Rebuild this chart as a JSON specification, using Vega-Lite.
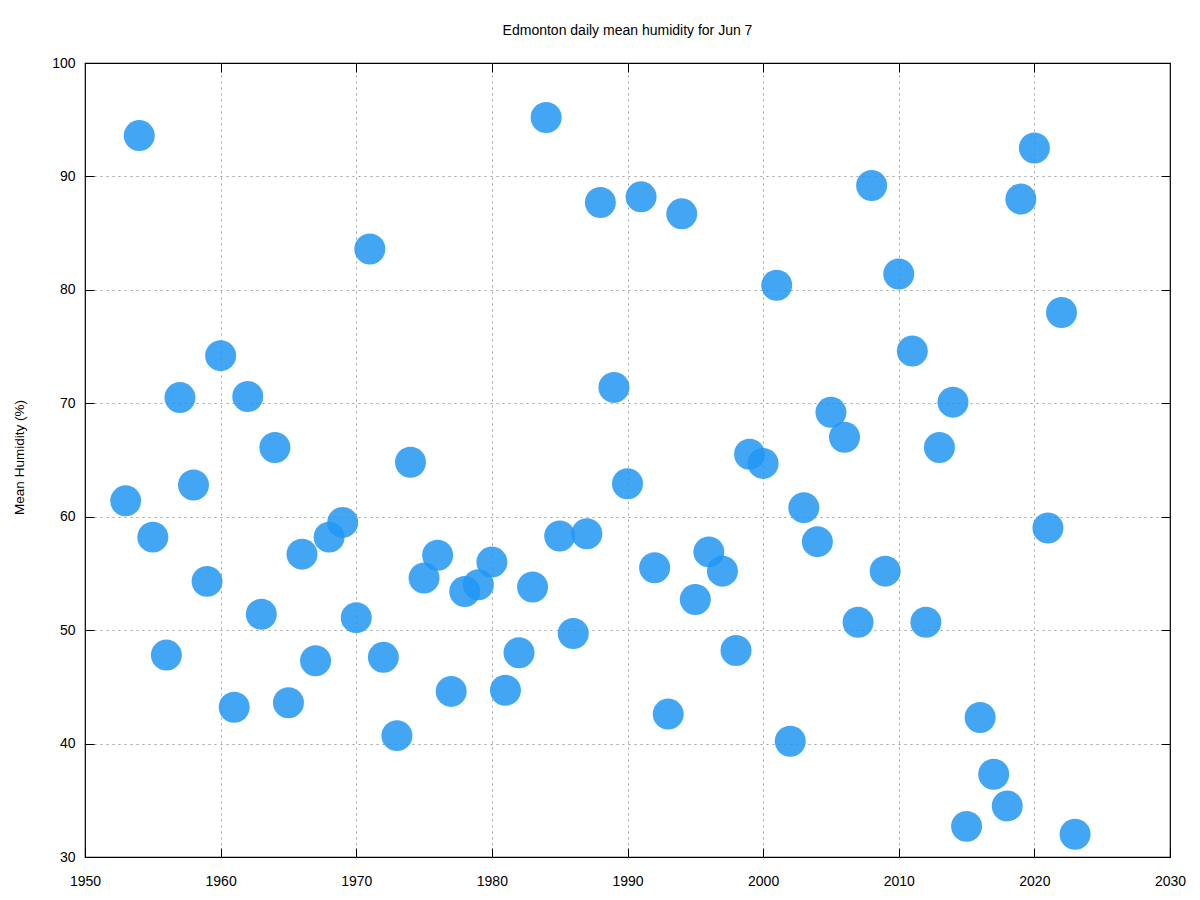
{
  "$schema": "https://vega.github.io/schema/vega-lite/v6.json",
  "autosize": "none",
  "width": 1085,
  "height": 794,
  "padding": {"left": 85, "top": 63, "right": 30, "bottom": 43},
  "background": "white",
  "title": {
    "text": "Edmonton daily mean humidity for Jun 7",
    "font": "Liberation Sans",
    "fontSize": 14,
    "fontWeight": "normal",
    "color": "black",
    "anchor": "middle",
    "frame": "group",
    "baseline": "alphabetic",
    "offset": 7
  },
  "config": {
    "view": {"stroke": "black", "strokeWidth": 1.2},
    "axis": {
      "labelFont": "Liberation Sans",
      "labelFontSize": 14,
      "labelColor": "black",
      "labelFlush": false,
      "titleFont": "Liberation Sans",
      "titleFontSize": 13.5,
      "titleFontWeight": "normal",
      "titleColor": "black",
      "tickColor": "black",
      "tickWidth": 1,
      "domain": false,
      "gridColor": "#a0a0a0",
      "gridDash": [2, 4],
      "gridWidth": 1
    }
  },
  "data": {
    "values": [
      {"year": 1953, "humidity": 61.4},
      {"year": 1954, "humidity": 93.6},
      {"year": 1955, "humidity": 58.2},
      {"year": 1956, "humidity": 47.8},
      {"year": 1957, "humidity": 70.5},
      {"year": 1958, "humidity": 62.8},
      {"year": 1959, "humidity": 54.3},
      {"year": 1960, "humidity": 74.2},
      {"year": 1961, "humidity": 43.2},
      {"year": 1962, "humidity": 70.6},
      {"year": 1963, "humidity": 51.4},
      {"year": 1964, "humidity": 66.1},
      {"year": 1965, "humidity": 43.6},
      {"year": 1966, "humidity": 56.7},
      {"year": 1967, "humidity": 47.3},
      {"year": 1968, "humidity": 58.2},
      {"year": 1969, "humidity": 59.5},
      {"year": 1970, "humidity": 51.1},
      {"year": 1971, "humidity": 83.6},
      {"year": 1972, "humidity": 47.6},
      {"year": 1973, "humidity": 40.7},
      {"year": 1974, "humidity": 64.8},
      {"year": 1975, "humidity": 54.6},
      {"year": 1976, "humidity": 56.6},
      {"year": 1977, "humidity": 44.6},
      {"year": 1978, "humidity": 53.4},
      {"year": 1979, "humidity": 54.0},
      {"year": 1980, "humidity": 56.0},
      {"year": 1981, "humidity": 44.7},
      {"year": 1982, "humidity": 48.0},
      {"year": 1983, "humidity": 53.8},
      {"year": 1984, "humidity": 95.2},
      {"year": 1985, "humidity": 58.3},
      {"year": 1986, "humidity": 49.7},
      {"year": 1987, "humidity": 58.5},
      {"year": 1988, "humidity": 87.7},
      {"year": 1989, "humidity": 71.4},
      {"year": 1990, "humidity": 62.9},
      {"year": 1991, "humidity": 88.2},
      {"year": 1992, "humidity": 55.5},
      {"year": 1993, "humidity": 42.6},
      {"year": 1994, "humidity": 86.7},
      {"year": 1995, "humidity": 52.7},
      {"year": 1996, "humidity": 56.9},
      {"year": 1997, "humidity": 55.2},
      {"year": 1998, "humidity": 48.2},
      {"year": 1999, "humidity": 65.5},
      {"year": 2000, "humidity": 64.7},
      {"year": 2001, "humidity": 80.4},
      {"year": 2002, "humidity": 40.2},
      {"year": 2003, "humidity": 60.8},
      {"year": 2004, "humidity": 57.8},
      {"year": 2005, "humidity": 69.2},
      {"year": 2006, "humidity": 67.0},
      {"year": 2007, "humidity": 50.7},
      {"year": 2008, "humidity": 89.2},
      {"year": 2009, "humidity": 55.2},
      {"year": 2010, "humidity": 81.4},
      {"year": 2011, "humidity": 74.6},
      {"year": 2012, "humidity": 50.7},
      {"year": 2013, "humidity": 66.1},
      {"year": 2014, "humidity": 70.1},
      {"year": 2015, "humidity": 32.7},
      {"year": 2016, "humidity": 42.3},
      {"year": 2017, "humidity": 37.3},
      {"year": 2018, "humidity": 34.5},
      {"year": 2019, "humidity": 88.0},
      {"year": 2020, "humidity": 92.5},
      {"year": 2021, "humidity": 59.0},
      {"year": 2022, "humidity": 78.0},
      {"year": 2023, "humidity": 32.0}
    ]
  },
  "resolve": {"axis": {"x": "independent", "y": "independent"}},
  "layer": [
    {
      "mark": {"type": "circle", "size": 960, "color": "#2196f3", "opacity": 0.85},
      "encoding": {
        "x": {
          "field": "year", "type": "quantitative",
          "scale": {"domain": [1950, 2030], "nice": false, "zero": false},
          "axis": {"orient": "bottom", "title": null, "values": [1950, 1960, 1970, 1980, 1990, 2000, 2010, 2020, 2030], "format": "d", "grid": false, "tickSize": -9, "labelPadding": 26}
        },
        "y": {
          "field": "humidity", "type": "quantitative",
          "scale": {"domain": [30, 100], "nice": false, "zero": false},
          "axis": {"orient": "left", "title": "Mean Humidity (%)", "values": [30, 40, 50, 60, 70, 80, 90, 100], "grid": false, "tickSize": -9, "labelPadding": 19, "titleX": -66, "titleY": 394, "titleAngle": -90, "titleBaseline": "middle", "titleAlign": "center"}
        }
      }
    },
    {
      "mark": {"type": "point", "opacity": 0},
      "encoding": {
        "x": {
          "field": "year", "type": "quantitative",
          "axis": {"orient": "top", "title": null, "values": [1960, 1970, 1980, 1990, 2000, 2010, 2020], "labels": false, "grid": true, "tickSize": -9}
        },
        "y": {
          "field": "humidity", "type": "quantitative",
          "axis": {"orient": "right", "title": null, "values": [40, 50, 60, 70, 80, 90], "labels": false, "grid": true, "tickSize": -9}
        }
      }
    }
  ]
}
